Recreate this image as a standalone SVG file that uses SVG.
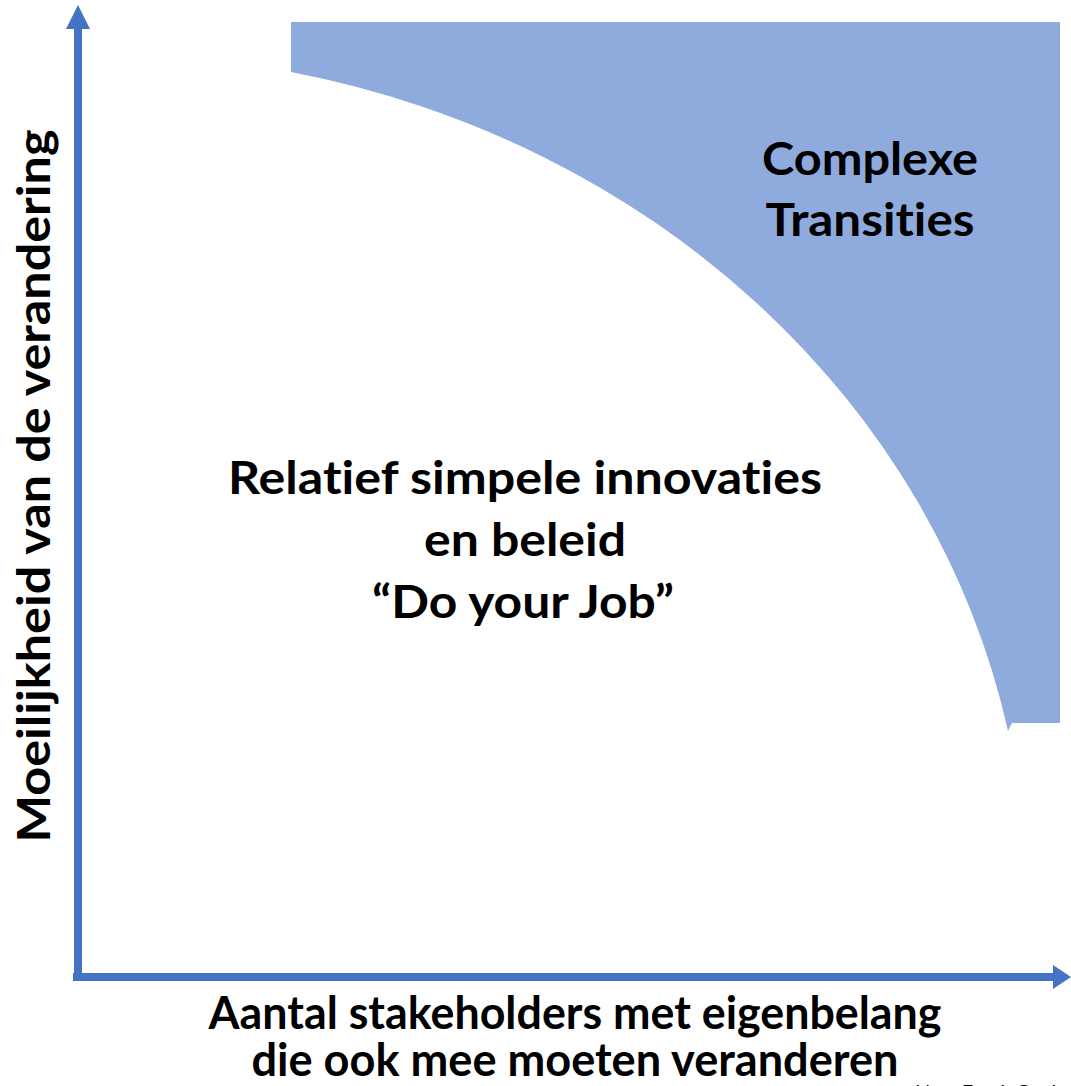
<svg xmlns="http://www.w3.org/2000/svg" width="1071" height="1086" viewBox="0 0 1071 1086">
<style>
.t{font-family:Lato,"Open Sans","Liberation Sans",sans-serif;font-weight:bold;fill:#000;text-anchor:middle;font-variant-ligatures:none;font-feature-settings:"liga" 0}
.big{font-size:45px}
.ax{fill:#4472C4}
</style>
<rect width="1071" height="1086" fill="#fff"/>
<g id="complex-region">
<path d="M291,22 H1060 V723 H1012 L1008,731 A927,846 0 0 0 291,72 Z" fill="#8FAADC"/>
<text class="t big" x="870" y="175" textLength="216" lengthAdjust="spacingAndGlyphs">Complexe</text>
<text class="t big" x="870" y="236" textLength="209" lengthAdjust="spacingAndGlyphs">Transities</text>
</g>
<g id="simple-region">
<text class="t big" x="525" y="494" textLength="594" lengthAdjust="spacingAndGlyphs">Relatief simpele innovaties</text>
<text class="t big" x="525" y="556" textLength="202" lengthAdjust="spacingAndGlyphs">en beleid</text>
<text class="t big" x="523" y="618" textLength="302" lengthAdjust="spacingAndGlyphs">“Do your Job”</text>
</g>
<g id="axes">
<rect class="ax" x="74" y="28" width="8" height="953"/>
<polygon class="ax" points="78,5 66,29 90,29"/>
<rect class="ax" x="73" y="973" width="981" height="8"/>
<polygon class="ax" points="1071,977 1053,965 1053,989"/>
</g>
<g id="y-label">
<text class="t big" transform="translate(50,486) rotate(-90)" x="0" y="0" textLength="713" lengthAdjust="spacingAndGlyphs">Moeilijkheid van de verandering</text>
</g>
<g id="x-label">
<text class="t big" x="575" y="1029" textLength="733" lengthAdjust="spacingAndGlyphs">Aantal stakeholders met eigenbelang</text>
<text class="t big" x="575" y="1076" textLength="647" lengthAdjust="spacingAndGlyphs">die ook mee moeten veranderen</text>
</g>
<g id="source">
<text x="915" y="1099" style="font-family:Lato,'Liberation Sans',sans-serif;font-size:20px;fill:#000">Naar Frank Geels</text>
</g>
</svg>
